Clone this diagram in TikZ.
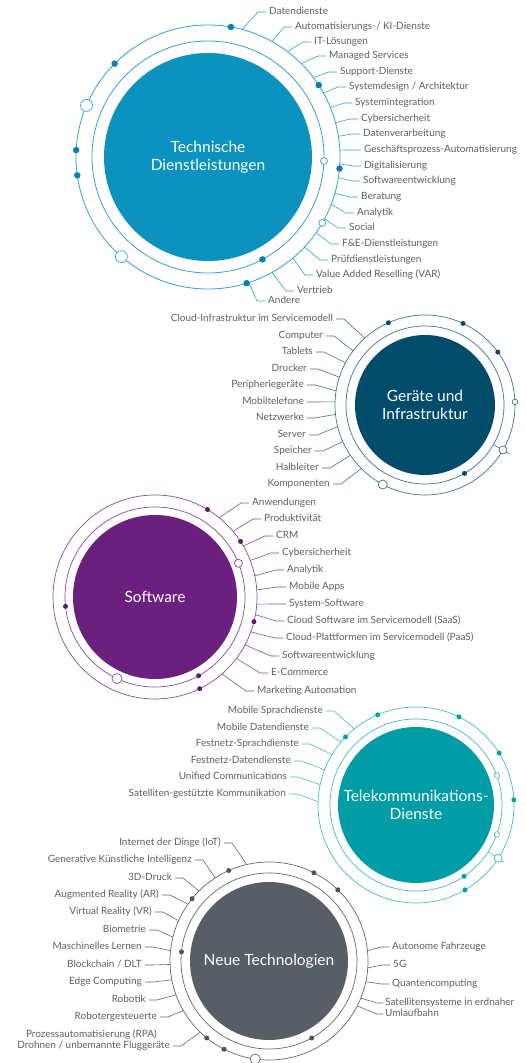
\documentclass[tikz,border=0pt]{standalone}
\usepackage{fontspec}
\setmainfont{Lato}

\definecolor{techfill}{HTML}{0B92BE}
\definecolor{techline}{HTML}{2FA3D0}
\definecolor{techdot}{HTML}{0A7FB3}
\definecolor{devfill}{HTML}{024C6B}
\definecolor{devline}{HTML}{3A7390}
\definecolor{devdot}{HTML}{0B4A6A}
\definecolor{softfill}{HTML}{6B1F7E}
\definecolor{softline}{HTML}{8A4A9E}
\definecolor{softdot}{HTML}{5F1872}
\definecolor{telefill}{HTML}{009DA6}
\definecolor{teleline}{HTML}{45BDC6}
\definecolor{teledot}{HTML}{00A3AB}
\definecolor{newfill}{HTML}{575E66}
\definecolor{newline}{HTML}{60666E}
\definecolor{newdot}{HTML}{4E545C}
\definecolor{textgray}{HTML}{5A5F66}

\begin{document}
\begin{tikzpicture}[x=1pt,y=1pt]
      % Define styles for nodes
      \tikzstyle{ring} = [draw, circle, inner sep=0pt, outer sep=0pt, line width=0.8pt]
      \tikzstyle{core} = [circle, inner sep=0pt, text=white, align=center,
      font=\fontsize{15.5}{18}\selectfont]
      \tikzstyle{dot} = [circle, inner sep=0pt, minimum size=5pt]
      \tikzstyle{hollow} = [circle, draw, fill=white, inner sep=0pt, line width=0.7pt]
      \tikzstyle{topic} = [inner sep=0pt, text=textgray, font=\fontsize{10}{11}\selectfont,
      text height=7pt, text depth=2pt]
      \tikzstyle{topicbox} = [inner sep=0pt, text=textgray]
      \tikzstyle{link} = [line width=0.6pt]

      \useasboundingbox (0,0) rectangle (526,1063);

      %%%%%%%%%%%%%%%%%%%%%%%%%%%%%%%%%%%%%%%%%%%%%%%%%%%%%%%%%%%%%%%%%%%%%%%
      % Technische Dienstleistungen
      \node[core, fill=techfill, minimum size=208pt] (tech) at (208,906) {Technische\\Dienstleistungen};
      \node[ring, draw=techline, minimum size=232pt] (tInner) at (208,906) {};
      \node[ring, draw=techline, minimum size=264pt] (tOuter) at (208,906) {};

      \node[topic, anchor=west] (tl1) at (269,1051) {Datendienste};
      \node[topic, anchor=west] (tl2) at (295,1036) {Automatisierungs-/ KI-Dienste};
      \node[topic, anchor=west] (tl3) at (314,1021) {IT-Lösungen};
      \node[topic, anchor=west] (tl4) at (329,1007) {Managed Services};
      \node[topic, anchor=west] (tl5) at (340,991) {Support-Dienste};
      \node[topic, anchor=west] (tl6) at (349,976) {Systemdesign / Architektur};
      \node[topic, anchor=west] (tl7) at (355,960) {Systemintegration};
      \node[topic, anchor=west] (tl8) at (361,944) {Cybersicherheit};
      \node[topic, anchor=west] (tl9) at (363,929) {Datenverarbeitung};
      \node[topic, anchor=west] (tl10) at (364,913) {Geschäftsprozess-Automatisierung};
      \node[topic, anchor=west] (tl11) at (364,897) {Digitalisierung};
      \node[topic, anchor=west] (tl12) at (363,882) {Softwareentwicklung};
      \node[topic, anchor=west] (tl13) at (361,866) {Beratung};
      \node[topic, anchor=west] (tl14) at (357,850) {Analytik};
      \node[topic, anchor=west] (tl15) at (349,835) {Social};
      \node[topic, anchor=west] (tl16) at (342,819) {F\&E-Dienstleistungen};
      \node[topic, anchor=west] (tl17) at (331,803) {Prüfdienstleistungen};
      \node[topic, anchor=west] (tl18) at (316,788) {Value Added Reselling (VAR)};
      \node[topic, anchor=west] (tl19) at (297,772) {Vertrieb};
      \node[topic, anchor=west] (tl20) at (268,762) {Andere};

      % Connections
      \draw[link, techline] (tOuter.75) -- ([xshift=-11pt]tl1.west) -- ([xshift=-3pt]tl1.west);
      \draw[link, techline] (tOuter.61) -- ([xshift=-11pt]tl2.west) -- ([xshift=-3pt]tl2.west);
      \draw[link, techline] (tOuter.53) -- ([xshift=-11pt]tl3.west) -- ([xshift=-3pt]tl3.west);
      \draw[link, techline] (tOuter.45) -- ([xshift=-11pt]tl4.west) -- ([xshift=-3pt]tl4.west);
      \draw[link, techline] (tOuter.37) -- ([xshift=-11pt]tl5.west) -- ([xshift=-3pt]tl5.west);
      \draw[link, techline] (tOuter.29) -- ([xshift=-11pt]tl6.west) -- ([xshift=-3pt]tl6.west);
      \draw[link, techline] (tOuter.22) -- ([xshift=-11pt]tl7.west) -- ([xshift=-3pt]tl7.west);
      \draw[link, techline] (tOuter.15) -- ([xshift=-11pt]tl8.west) -- ([xshift=-3pt]tl8.west);
      \draw[link, techline] (tOuter.9) -- ([xshift=-11pt]tl9.west) -- ([xshift=-3pt]tl9.west);
      \draw[link, techline] (tOuter.3) -- ([xshift=-11pt]tl10.west) -- ([xshift=-3pt]tl10.west);
      \draw[link, techline] (tOuter.-3) -- ([xshift=-11pt]tl11.west) -- ([xshift=-3pt]tl11.west);
      \draw[link, techline] (tOuter.-9) -- ([xshift=-11pt]tl12.west) -- ([xshift=-3pt]tl12.west);
      \draw[link, techline] (tOuter.-16) -- ([xshift=-11pt]tl13.west) -- ([xshift=-3pt]tl13.west);
      \draw[link, techline] (tOuter.-21) -- ([xshift=-11pt]tl14.west) -- ([xshift=-3pt]tl14.west);
      \draw[link, techline] (tOuter.-28) -- ([xshift=-11pt]tl15.west) -- ([xshift=-3pt]tl15.west);
      \draw[link, techline] (tOuter.-35) -- ([xshift=-11pt]tl16.west) -- ([xshift=-3pt]tl16.west);
      \draw[link, techline] (tOuter.-43) -- ([xshift=-11pt]tl17.west) -- ([xshift=-3pt]tl17.west);
      \draw[link, techline] (tOuter.-50) -- ([xshift=-11pt]tl18.west) -- ([xshift=-3pt]tl18.west);
      \draw[link, techline] (tOuter.-61) -- ([xshift=-11pt]tl19.west) -- ([xshift=-3pt]tl19.west);
      \draw[link, techline] (tOuter.-72) -- ([xshift=-11pt]tl20.west) -- ([xshift=-3pt]tl20.west);

      % Dots on the rings
      \node[dot, fill=techdot, minimum size=6.5pt] (td1) at (tOuter.80) {};
      \node[dot, fill=techdot, minimum size=6.5pt] (td2) at (tOuter.135) {};
      \node[dot, fill=techdot, minimum size=6.5pt] (td3) at (tOuter.177) {};
      \node[dot, fill=techdot, minimum size=6.5pt] (td4) at (tOuter.188) {};
      \node[dot, fill=techdot, minimum size=6.5pt] (td5) at (tOuter.-73) {};
      \node[dot, fill=techdot, minimum size=6.5pt] (td6) at (tOuter.33) {};
      \node[dot, fill=techdot, minimum size=6.5pt] (td7) at (tOuter.-5) {};
      \node[dot, fill=techdot, minimum size=6.5pt] (td8) at (tInner.-62) {};
      \node[hollow, draw=techline, minimum size=12pt] (th1) at (tOuter.157) {};
      \node[hollow, draw=techline, minimum size=12pt] (th2) at (tOuter.229) {};
      \node[hollow, draw=techline, minimum size=7pt] (th3) at (tOuter.-30) {};
      \node[hollow, draw=techline, minimum size=7pt] (th4) at (tInner.-2) {};

      %%%%%%%%%%%%%%%%%%%%%%%%%%%%%%%%%%%%%%%%%%%%%%%%%%%%%%%%%%%%%%%%%%%%%%%
      % Geraete und Infrastruktur
      \node[core, fill=devfill, minimum size=140pt] (dev) at (425,658) {Geräte und\\Infrastruktur};
      \node[ring, draw=devline, line width=0.7pt, minimum size=158pt] (gInner) at (425,658) {};
      \node[ring, draw=devline, line width=0.7pt, minimum size=180pt] (gOuter) at (425,658) {};

      \node[topic, anchor=east] (gl1) at (333,744) {Cloud-Infrastruktur im Servicemodell};
      \node[topic, anchor=east] (gl2) at (323,727) {Computer};
      \node[topic, anchor=east] (gl3) at (313,711) {Tablets};
      \node[topic, anchor=east] (gl4) at (307,694) {Drucker};
      \node[topic, anchor=east] (gl5) at (304,678) {Peripheriegeräte};
      \node[topic, anchor=east] (gl6) at (304,661) {Mobiltelefone};
      \node[topic, anchor=east] (gl7) at (304,645) {Netzwerke};
      \node[topic, anchor=east] (gl8) at (306,628) {Server};
      \node[topic, anchor=east] (gl9) at (312,612) {Speicher};
      \node[topic, anchor=east] (gl10) at (319,595) {Halbleiter};
      \node[topic, anchor=east] (gl11) at (330,579) {Komponenten};

      \draw[link, devline] (gOuter.132) -- ([xshift=11pt]gl1.east) -- ([xshift=3pt]gl1.east);
      \draw[link, devline] (gOuter.143) -- ([xshift=11pt]gl2.east) -- ([xshift=3pt]gl2.east);
      \draw[link, devline] (gOuter.152) -- ([xshift=11pt]gl3.east) -- ([xshift=3pt]gl3.east);
      \draw[link, devline] (gOuter.162) -- ([xshift=11pt]gl4.east) -- ([xshift=3pt]gl4.east);
      \draw[link, devline] (gOuter.171) -- ([xshift=11pt]gl5.east) -- ([xshift=3pt]gl5.east);
      \draw[link, devline] (gOuter.178) -- ([xshift=11pt]gl6.east) -- ([xshift=3pt]gl6.east);
      \draw[link, devline] (gOuter.186) -- ([xshift=11pt]gl7.east) -- ([xshift=3pt]gl7.east);
      \draw[link, devline] (gOuter.194) -- ([xshift=11pt]gl8.east) -- ([xshift=3pt]gl8.east);
      \draw[link, devline] (gOuter.204) -- ([xshift=11pt]gl9.east) -- ([xshift=3pt]gl9.east);
      \draw[link, devline] (gOuter.214) -- ([xshift=11pt]gl10.east) -- ([xshift=3pt]gl10.east);
      \draw[link, devline] (gOuter.225) -- ([xshift=11pt]gl11.east) -- ([xshift=3pt]gl11.east);

      \draw[link, devline] (gInner.-30) -- ([shift={(-30:7pt)}]gOuter.-30);
      \node[dot, fill=devdot] (gd1) at (gOuter.114) {};
      \node[dot, fill=devdot] (gd2) at (gOuter.65) {};
      \node[dot, fill=devdot] (gd3) at (gOuter.36) {};
      \node[dot, fill=devdot] (gd4) at (gInner.-60) {};
      \node[hollow, draw=devline, minimum size=5.5pt] (gh1) at (gOuter.2) {};
      \node[hollow, draw=devline, minimum size=8pt] (gh2) at (gOuter.-30) {};
      \node[hollow, draw=devline, minimum size=9pt] (gh3) at (gOuter.242) {};

      %%%%%%%%%%%%%%%%%%%%%%%%%%%%%%%%%%%%%%%%%%%%%%%%%%%%%%%%%%%%%%%%%%%%%%%
      % Software
      \node[core, fill=softfill, minimum size=164pt] (soft) at (155,466) {Software};
      \node[ring, draw=softline, line width=0.7pt, minimum size=180pt] (sInner) at (155,466) {};
      \node[ring, draw=softline, line width=0.7pt, minimum size=204pt] (sOuter) at (155,466) {};

      \node[topic, anchor=west] (sl1) at (252,560) {Anwendungen};
      \node[topic, anchor=west] (sl2) at (264,544) {Produktivität};
      \node[topic, anchor=west] (sl3) at (276,527) {CRM};
      \node[topic, anchor=west] (sl4) at (282,510) {Cybersicherheit};
      \node[topic, anchor=west] (sl5) at (287,493) {Analytik};
      \node[topic, anchor=west] (sl6) at (289,476) {Mobile Apps};
      \node[topic, anchor=west] (sl7) at (289,459) {System-Software};
      \node[topic, anchor=west] (sl8) at (287,442) {Cloud Software im Servicemodell (SaaS)};
      \node[topic, anchor=west] (sl9) at (286,425) {Cloud-Plattformen im Servicemodell (PaaS)};
      \node[topic, anchor=west] (sl10) at (282,407) {Softwareentwicklung};
      \node[topic, anchor=west] (sl11) at (271,390) {E-Commerce};
      \node[topic, anchor=west] (sl12) at (257,372) {Marketing Automation};

      \draw[link, softline] (sOuter.51) -- ([xshift=-11pt]sl1.west) -- ([xshift=-3pt]sl1.west);
      \draw[link, softline] (sOuter.40) -- ([xshift=-11pt]sl2.west) -- ([xshift=-3pt]sl2.west);
      \draw[link, softline] (sOuter.30) -- ([xshift=-11pt]sl3.west) -- ([xshift=-3pt]sl3.west);
      \draw[link, softline] (sOuter.21) -- ([xshift=-11pt]sl4.west) -- ([xshift=-3pt]sl4.west);
      \draw[link, softline] (sOuter.12) -- ([xshift=-11pt]sl5.west) -- ([xshift=-3pt]sl5.west);
      \draw[link, softline] (sOuter.4) -- ([xshift=-11pt]sl6.west) -- ([xshift=-3pt]sl6.west);
      \draw[link, softline] (sOuter.-4) -- ([xshift=-11pt]sl7.west) -- ([xshift=-3pt]sl7.west);
      \draw[link, softline] (sOuter.-10) -- ([xshift=-11pt]sl8.west) -- ([xshift=-3pt]sl8.west);
      \draw[link, softline] (sOuter.-20) -- ([xshift=-11pt]sl9.west) -- ([xshift=-3pt]sl9.west);
      \draw[link, softline] (sOuter.-28) -- ([xshift=-11pt]sl10.west) -- ([xshift=-3pt]sl10.west);
      \draw[link, softline] (sOuter.-37) -- ([xshift=-11pt]sl11.west) -- ([xshift=-3pt]sl11.west);
      \draw[link, softline] (sOuter.-49) -- ([xshift=-11pt]sl12.west) -- ([xshift=-3pt]sl12.west);

      \node[dot, fill=softdot] (sd1) at (sOuter.59) {};
      \node[dot, fill=softdot] (sd2) at (sOuter.33) {};
      \node[dot, fill=softdot] (sd3) at (sOuter.-14) {};
      \node[dot, fill=softdot] (sd4) at (sOuter.-64) {};
      \node[dot, fill=softdot] (sd5) at (sInner.186) {};
      \node[dot, fill=softdot] (sd6) at (sInner.-61) {};
      \node[hollow, draw=softline, minimum size=8pt] (sh1) at (sInner.22) {};
      \node[hollow, draw=softline, minimum size=10pt] (sh2) at (sInner.245) {};

      %%%%%%%%%%%%%%%%%%%%%%%%%%%%%%%%%%%%%%%%%%%%%%%%%%%%%%%%%%%%%%%%%%%%%%%
      % Telekommunikations-Dienste
      \node[core, fill=telefill, minimum size=156pt] (tele) at (416,258) {Telekommunikations-\\Dienste};
      \node[ring, draw=teleline, line width=0.7pt, minimum size=172pt] (kInner) at (416,258) {};
      \node[ring, draw=teleline, line width=0.7pt, minimum size=196pt] (kOuter) at (416,258) {};

      \node[topic, anchor=east] (kl1) at (323,352) {Mobile Sprachdienste};
      \node[topic, anchor=east] (kl2) at (309,335) {Mobile Datendienste};
      \node[topic, anchor=east] (kl3) at (299,319) {Festnetz-Sprachdienste};
      \node[topic, anchor=east] (kl4) at (291,302) {Festnetz-Datendienste};
      \node[topic, anchor=east] (kl5) at (287,286) {Unified Communications};
      \node[topic, anchor=east] (kl6) at (286,269) {Satelliten-gestützte Kommunikation};

      \draw[link, teleline] (kOuter.129) -- ([xshift=11pt]kl1.east) -- ([xshift=3pt]kl1.east);
      \draw[link, teleline] (kOuter.140) -- ([xshift=11pt]kl2.east) -- ([xshift=3pt]kl2.east);
      \draw[link, teleline] (kOuter.149) -- ([xshift=11pt]kl3.east) -- ([xshift=3pt]kl3.east);
      \draw[link, teleline] (kOuter.159) -- ([xshift=11pt]kl4.east) -- ([xshift=3pt]kl4.east);
      \draw[link, teleline] (kOuter.168) -- ([xshift=11pt]kl5.east) -- ([xshift=3pt]kl5.east);
      \draw[link, teleline] (kOuter.178) -- ([xshift=11pt]kl6.east) -- ([xshift=3pt]kl6.east);

      \draw[link, teleline] (kInner.-33) -- ([shift={(-33:7pt)}]kOuter.-33);
      \node[dot, fill=teledot] (kd1) at (kOuter.113) {};
      \node[dot, fill=teledot] (kd2) at (kOuter.64) {};
      \node[dot, fill=teledot] (kd3) at (kOuter.136) {};
      \node[dot, fill=teledot] (kd4) at (kOuter.32) {};
      \node[dot, fill=teledot] (kd5) at (kOuter.3) {};
      \node[dot, fill=teledot] (kd6) at (kOuter.-60) {};
      \node[dot, fill=teledot] (kd7) at (kInner.-56) {};
      \node[hollow, draw=teleline, minimum size=5.5pt] (kh1) at (kInner.20) {};
      \node[hollow, draw=teleline, minimum size=5.5pt] (kh2) at (kInner.-20) {};
      \node[hollow, draw=teleline, minimum size=8pt] (kh3) at (kOuter.-33) {};

      %%%%%%%%%%%%%%%%%%%%%%%%%%%%%%%%%%%%%%%%%%%%%%%%%%%%%%%%%%%%%%%%%%%%%%%
      % Neue Technologien
      \node[core, fill=newfill, minimum size=158pt] (new) at (269,102) {Neue Technologien};
      \node[ring, draw=newline, line width=0.7pt, minimum size=176pt] (nInner) at (269,102) {};
      \node[ring, draw=newline, line width=0.7pt, minimum size=198pt] (nOuter) at (269,102) {};

      \node[topic, anchor=east] (nl1) at (221,220) {Internet der Dinge (IoT)};
      \node[topic, anchor=east] (nl2) at (192,203) {Generative Künstliche Intelligenz};
      \node[topic, anchor=east] (nl3) at (172,185) {3D-Druck};
      \node[topic, anchor=east] (nl4) at (159,168) {Augmented Reality (AR)};
      \node[topic, anchor=east] (nl5) at (152,151) {Virtual Reality (VR)};
      \node[topic, anchor=east] (nl6) at (146,133) {Biometrie};
      \node[topic, anchor=east] (nl7) at (142,116) {Maschinelles Lernen};
      \node[topic, anchor=east] (nl8) at (142,98) {Blockchain / DLT};
      \node[topic, anchor=east] (nl9) at (142,81) {Edge Computing};
      \node[topic, anchor=east] (nl10) at (146,63) {Robotik};
      \node[topicbox, anchor=north east, align=right, font=\fontsize{10}{18}\selectfont] (nl11)
      at (157,51) {Robotergesteuerte\\Prozessautomatisierung (RPA)};
      \node[topic, anchor=east] (nl12) at (170,17) {Drohnen / unbemannte Fluggeräte};

      \node[topic, anchor=west] (nr1) at (392,116) {Autonome Fahrzeuge};
      \node[topic, anchor=west] (nr2) at (393,98) {5G};
      \node[topic, anchor=west] (nr3) at (392,79) {Quantencomputing};
      \node[topicbox, anchor=north west, align=left, font=\fontsize{10}{11}\selectfont] (nr4)
      at (385,65) {Satellitensysteme in erdnaher\\Umlaufbahn};

      \draw[link, newline] (nOuter.103) -- ([xshift=11pt]nl1.east) -- ([xshift=3pt]nl1.east);
      \draw[link, newline] (nOuter.123) -- ([xshift=11pt]nl2.east) -- ([xshift=3pt]nl2.east);
      \draw[link, newline] (nOuter.135) -- ([xshift=11pt]nl3.east) -- ([xshift=3pt]nl3.east);
      \draw[link, newline] (nOuter.145) -- ([xshift=11pt]nl4.east) -- ([xshift=3pt]nl4.east);
      \draw[link, newline] (nOuter.156) -- ([xshift=11pt]nl5.east) -- ([xshift=3pt]nl5.east);
      \draw[link, newline] (nOuter.166) -- ([xshift=11pt]nl6.east) -- ([xshift=3pt]nl6.east);
      \draw[link, newline] (nOuter.174) -- ([xshift=11pt]nl7.east) -- ([xshift=3pt]nl7.east);
      \draw[link, newline] (nOuter.182) -- ([xshift=11pt]nl8.east) -- ([xshift=3pt]nl8.east);
      \draw[link, newline] (nOuter.191) -- ([xshift=11pt]nl9.east) -- ([xshift=3pt]nl9.east);
      \draw[link, newline] (nOuter.200) -- ([xshift=11pt]nl10.east) -- ([xshift=3pt]nl10.east);
      \draw[link, newline] (nOuter.210) -- ([xshift=11pt,yshift=-5pt]nl11.north east) -- ([xshift=3pt,yshift=-5pt]nl11.north east);
      \draw[link, newline] (nOuter.226) -- ([xshift=11pt]nl12.east) -- ([xshift=3pt]nl12.east);

      \draw[link, newline] (nOuter.6) -- ([xshift=-11pt]nr1.west) -- ([xshift=-3pt]nr1.west);
      \draw[link, newline] (nOuter.-4) -- ([xshift=-11pt]nr2.west) -- ([xshift=-3pt]nr2.west);
      \draw[link, newline] (nOuter.-12) -- ([xshift=-11pt]nr3.west) -- ([xshift=-3pt]nr3.west);
      \draw[link, newline] (nOuter.-22) -- ([xshift=-8pt,yshift=-5pt]nr4.north west) -- ([xshift=-2pt,yshift=-5pt]nr4.north west);
      \draw[link, newline] (nOuter.-27) -- ([xshift=-8pt,yshift=-16pt]nr4.north west) -- ([xshift=-2pt,yshift=-16pt]nr4.north west);

      \node[dot, fill=newdot] (nd1) at (nOuter.114) {};
      \node[dot, fill=newdot] (nd2) at (nOuter.63) {};
      \node[dot, fill=newdot] (nd3) at (nOuter.46) {};
      \node[dot, fill=newdot] (nd4) at (nOuter.141) {};
      \node[dot, fill=newdot] (nd5) at (nOuter.231) {};
      \node[dot, fill=newdot] (nd6) at (nOuter.243) {};
      \node[dot, fill=newdot] (nd7) at (nInner.174) {};
      \node[dot, fill=newdot] (nd8) at (nInner.-61) {};
      \node[hollow, draw=newline, minimum size=10pt] (nh1) at (nOuter.262) {};
\end{tikzpicture}
\end{document}
